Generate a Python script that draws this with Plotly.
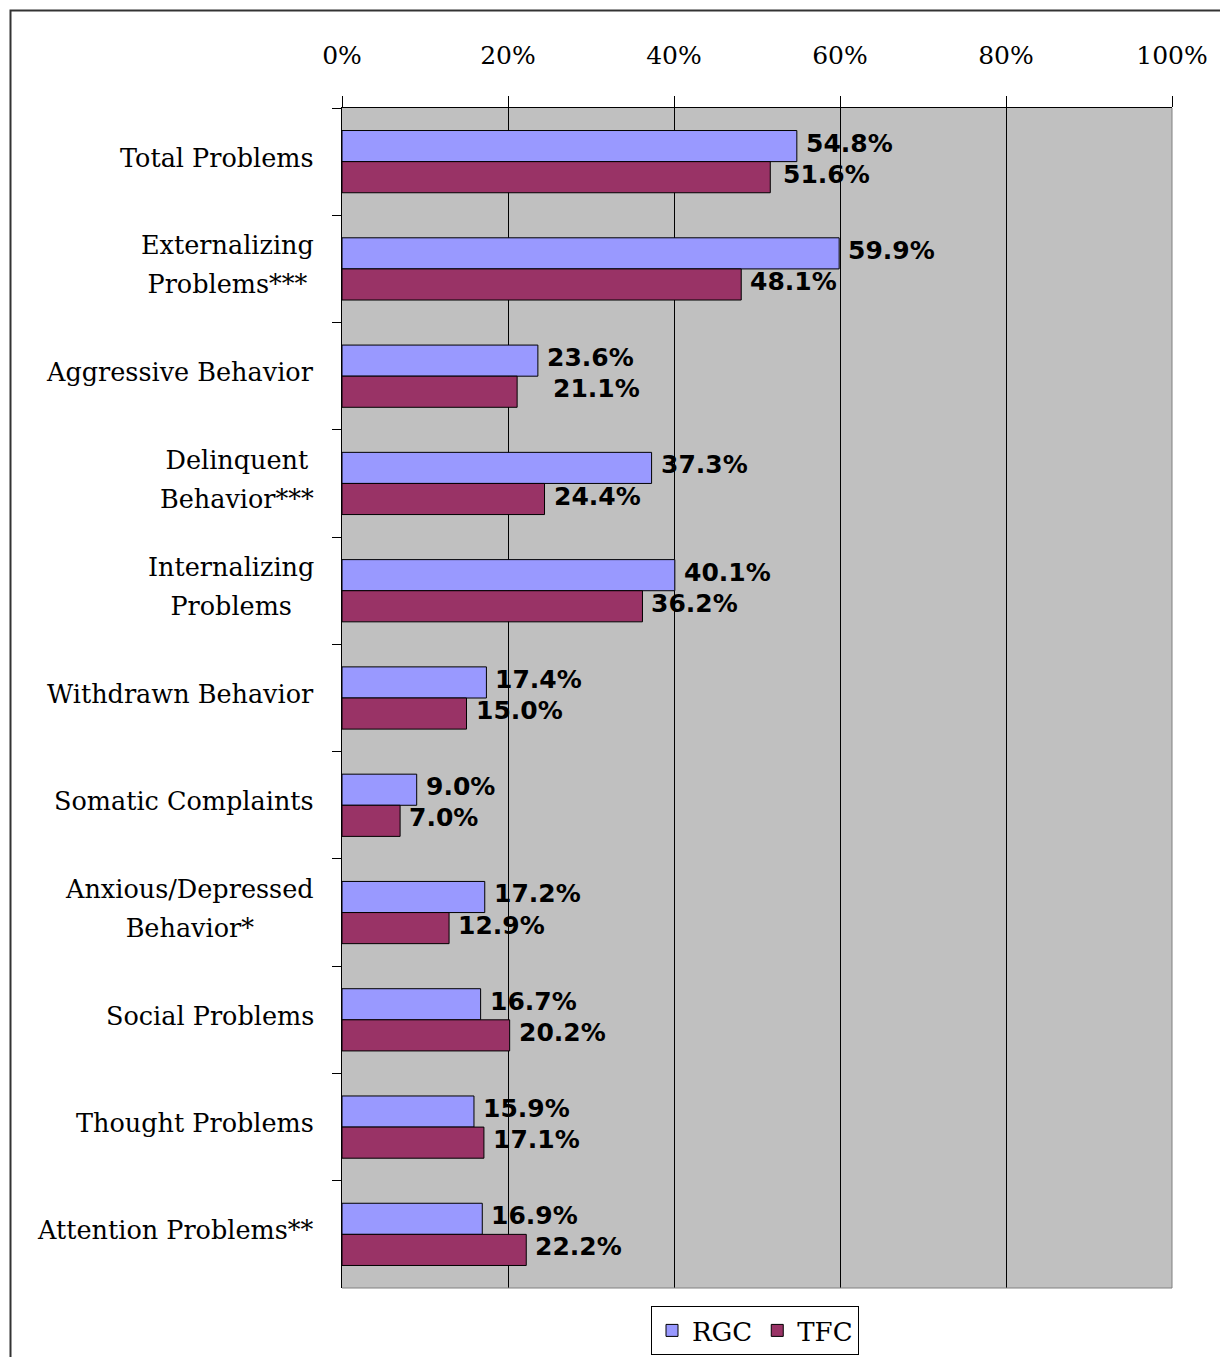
import plotly.graph_objects as go

# ---- data -------------------------------------------------------------
categories = [
    "Total Problems",
    "Externalizing\nProblems***",
    "Aggressive Behavior",
    "Delinquent\nBehavior***",
    "Internalizing\nProblems",
    "Withdrawn Behavior",
    "Somatic Complaints",
    "Anxious/Depressed\nBehavior*",
    "Social Problems",
    "Thought Problems",
    "Attention Problems**",
]
rgc = [54.8, 59.9, 23.6, 37.3, 40.1, 17.4, 9.0, 17.2, 16.7, 15.9, 16.9]
tfc = [51.6, 48.1, 21.1, 24.4, 36.2, 15.0, 7.0, 12.9, 20.2, 17.1, 22.2]
x_ticks = [0, 20, 40, 60, 80, 100]
series_names = ["RGC", "TFC"]

# ---- geometry & style -------------------------------------------------
W, H = 1220, 1357
M_L, M_R, M_T, M_B = 342, 48, 108, 69
PLOT_W = W - M_L - M_R
PLOT_H = H - M_T - M_B
BARGAP = 0.42
CAT_PX = PLOT_H / len(categories)
BAR_PX = CAT_PX * (1 - BARGAP) / 2

SERIF = "DejaVu Serif"
SANS = "DejaVu Sans"
COLORS = {"RGC": "#9999FF", "TFC": "#993366"}
CAT_FONT_SIZE = 25.5
CAT_LINE_SIZE = 30      # sets the line pitch of two-line category labels

LABEL_PAD = 7          # gap between bar end and value label
LABEL_LIFT = 3         # value labels sit slightly above bar centre
label_nudge = {("TFC", 2): 27, ("TFC", 0): 4}


def px_to_paper_x(px):
    return (px - M_L) / PLOT_W


def px_to_paper_y(py):
    return (H - M_B - py) / PLOT_H


fig = go.Figure()
for name, values in zip(series_names, [rgc, tfc]):
    fig.add_trace(go.Bar(
        name=name,
        y=categories,
        x=values,
        orientation="h",
        marker=dict(color=COLORS[name], line=dict(color="black", width=1)),
        hoverinfo="skip",
    ))

annotations = []

# value labels beside each bar
for s_idx, (name, values) in enumerate(zip(series_names, [rgc, tfc])):
    centre = BAR_PX / 2 if s_idx == 0 else -BAR_PX / 2
    for i, v in enumerate(values):
        annotations.append(dict(
            x=v, y=categories[i], xref="x", yref="y",
            text=f"{v:.1f}%", showarrow=False,
            xanchor="left", yanchor="middle",
            xshift=LABEL_PAD + label_nudge.get((name, i), 0),
            yshift=centre + LABEL_LIFT,
            font=dict(family=SANS, size=25, color="black", weight="bold"),
        ))

# category labels (centred lines, right edge near the axis)
CAT_LIFT = 4
for cat in categories:
    lines = cat.split("\n")
    if len(lines) == 1:
        text, size = lines[0], CAT_FONT_SIZE
    else:
        span = "<span style='font-size:{}px'>{}</span>"
        text = "<br>".join(span.format(CAT_FONT_SIZE, ln) for ln in lines)
        size = CAT_LINE_SIZE
    annotations.append(dict(
        xref="paper", x=0, yref="y", y=cat, showarrow=False,
        xanchor="right", yanchor="middle", align="center",
        xshift=-26, yshift=CAT_LIFT, text=text,
        font=dict(family=SERIF, size=size, color="black"),
    ))

shapes = [
    # outer chart frame
    dict(type="rect", xref="paper", yref="paper",
         x0=px_to_paper_x(10.5), x1=px_to_paper_x(1240),
         y0=px_to_paper_y(1380), y1=px_to_paper_y(10.5),
         line=dict(color="#333333", width=2), fillcolor="rgba(0,0,0,0)",
         layer="above"),
    # right and bottom plot-area border
    dict(type="line", xref="paper", yref="paper", x0=1, x1=1, y0=0, y1=1,
         line=dict(color="#808080", width=1), layer="above"),
    dict(type="line", xref="paper", yref="paper", x0=0, x1=1, y0=0, y1=0,
         line=dict(color="#808080", width=1), layer="above"),
]

fig.update_layout(
    width=W, height=H,
    margin=dict(l=M_L, r=M_R, t=M_T, b=M_B, pad=0),
    paper_bgcolor="white",
    plot_bgcolor="#C0C0C0",
    barmode="group",
    bargap=BARGAP,
    bargroupgap=0,
    annotations=annotations,
    shapes=shapes,
    showlegend=True,
    legend=dict(
        orientation="h",
        xref="container", yref="container",
        x=755 / W, xanchor="center",
        y=1 - 1306 / H, yanchor="top",
        bgcolor="white", bordercolor="black", borderwidth=1,
        font=dict(family=SERIF, size=26, color="black"),
        itemwidth=30, traceorder="normal",
    ),
    xaxis=dict(
        side="top",
        range=[0, 100],
        tickvals=x_ticks,
        ticktext=[f"{t}%" for t in x_ticks],
        ticks="outside", ticklen=11, tickcolor="black", tickwidth=1,
        ticklabelstandoff=22,
        tickfont=dict(family=SERIF, size=25, color="black"),
        showgrid=True, gridcolor="black", gridwidth=1,
        zeroline=False,
        showline=True, linecolor="black", linewidth=1,
        fixedrange=True,
    ),
    yaxis=dict(
        type="category",
        categoryorder="array", categoryarray=categories,
        autorange="reversed",
        tickson="boundaries",
        ticks="outside", ticklen=9, tickcolor="black", tickwidth=1,
        showticklabels=False,
        showgrid=False, zeroline=False,
        showline=True, linecolor="black", linewidth=1,
        fixedrange=True,
    ),
)

fig.write_html("out.html")
